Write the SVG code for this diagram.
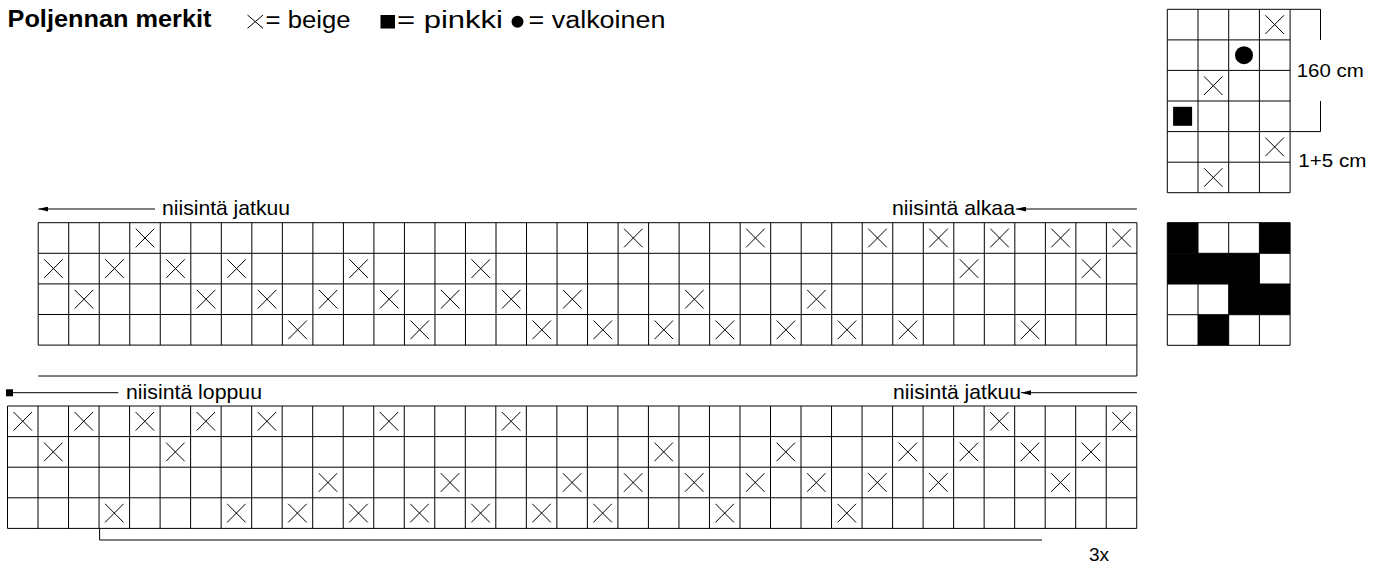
<svg xmlns="http://www.w3.org/2000/svg" xmlns:xlink="http://www.w3.org/1999/xlink" width="1384" height="566" viewBox="0 0 1384 566">
<style>
text{font-family:"Liberation Sans",Arial,Helvetica,sans-serif;fill:#000}
.h{font-size:24px;font-weight:bold}
.l{font-size:23px}
.t{font-size:21px}
.s{font-size:19px}
.grid{fill:none;stroke:#000;stroke-width:1}
.mk{fill:none;stroke:#000;stroke-width:1}
.con{fill:none;stroke:#000;stroke-width:1}
</style>
<defs>
<path id="x" class="mk" d="M6,6L24.5,24.6M24.5,6L6,24.6"/>
<marker id="ar" viewBox="0 0 10 5" refX="10" refY="2.5" markerWidth="10" markerHeight="5" markerUnits="userSpaceOnUse" orient="auto">
<path d="M0,0L10,2.5L0,5z" fill="#000"/>
</marker>
</defs>
<rect width="1384" height="566" fill="#fff"/>

<g id="legend-title">
<text class="h" x="7.5" y="26.8" textLength="204" lengthAdjust="spacingAndGlyphs">Poljennan merkit</text>
<path class="mk" d="M247.5,15L263,28.3M263,15L247.5,28.3"/>
<text class="l" x="265.5" y="28.3" textLength="85" lengthAdjust="spacingAndGlyphs">= beige</text>
<rect x="380.5" y="15" width="14.5" height="13.5" fill="#000"/>
<text class="l" x="397" y="28.3" textLength="106" lengthAdjust="spacingAndGlyphs">= pinkki</text>
<circle cx="517.5" cy="21.8" r="6" fill="#000"/>
<text class="l" x="528.5" y="28.3" textLength="137" lengthAdjust="spacingAndGlyphs">= valkoinen</text>
</g>

<g id="sample-grid">
<path class="grid" d="M1167.3,9.3H1290.1M1167.3,39.9H1290.1M1167.3,70.4H1290.1M1167.3,101H1290.1M1167.3,131.6H1290.1M1167.3,162.2H1290.1M1167.3,192.7H1290.1M1167.3,9.3V192.7M1198,9.3V192.7M1228.7,9.3V192.7M1259.4,9.3V192.7M1290.1,9.3V192.7"/>
<use href="#x" xlink:href="#x" x="1259.4" y="9.3"/>
<use href="#x" xlink:href="#x" x="1198" y="70.4"/>
<use href="#x" xlink:href="#x" x="1259.4" y="131.6"/>
<use href="#x" xlink:href="#x" x="1198" y="162.2"/>
<circle cx="1244" cy="55.2" r="9" fill="#000"/>
<rect x="1173.1" y="106.8" width="19" height="19" fill="#000"/>
<path class="grid" d="M1290.1,9.3H1320.5V39.9M1320.5,101V131.6H1290.1"/>
<text class="s" x="1296.7" y="76.5" textLength="67" lengthAdjust="spacingAndGlyphs">160 cm</text>
<text class="s" x="1298.3" y="166.7" textLength="68" lengthAdjust="spacingAndGlyphs">1+5 cm</text>
</g>

<g id="result-grid">
<rect x="1167.3" y="222.7" width="30.7" height="30.6" fill="#000"/>
<rect x="1259.4" y="222.7" width="30.7" height="30.6" fill="#000"/>
<rect x="1167.3" y="253.3" width="92.1" height="30.7" fill="#000"/>
<rect x="1228.7" y="284" width="61.4" height="30.7" fill="#000"/>
<rect x="1198" y="314.7" width="30.7" height="30.6" fill="#000"/>
<path class="grid" d="M1167.3,222.7H1290.1M1167.3,253.3H1290.1M1167.3,284H1290.1M1167.3,314.7H1290.1M1167.3,345.3H1290.1M1167.3,222.7V345.3M1198,222.7V345.3M1228.7,222.7V345.3M1259.4,222.7V345.3M1290.1,222.7V345.3"/>
</g>

<g id="top-grid">
<path class="grid" d="M38.2,222.7H1136.92M38.2,253.3H1136.92M38.2,283.9H1136.92M38.2,314.5H1136.92M38.2,345.1H1136.92
M38.2,222.7V345.1M68.72,222.7V345.1M99.24,222.7V345.1M129.76,222.7V345.1M160.28,222.7V345.1M190.8,222.7V345.1M221.32,222.7V345.1M251.84,222.7V345.1M282.36,222.7V345.1M312.88,222.7V345.1M343.4,222.7V345.1M373.92,222.7V345.1M404.44,222.7V345.1M434.96,222.7V345.1M465.48,222.7V345.1M496,222.7V345.1M526.52,222.7V345.1M557.04,222.7V345.1M587.56,222.7V345.1M618.08,222.7V345.1M648.6,222.7V345.1M679.12,222.7V345.1M709.64,222.7V345.1M740.16,222.7V345.1M770.68,222.7V345.1M801.2,222.7V345.1M831.72,222.7V345.1M862.24,222.7V345.1M892.76,222.7V345.1M923.28,222.7V345.1M953.8,222.7V345.1M984.32,222.7V345.1M1014.84,222.7V345.1M1045.36,222.7V345.1M1075.88,222.7V345.1M1106.4,222.7V345.1M1136.92,222.7V345.1"/>
<g>
<use href="#x" xlink:href="#x" x="129.76" y="222.7"/><use href="#x" xlink:href="#x" x="618.08" y="222.7"/><use href="#x" xlink:href="#x" x="740.16" y="222.7"/><use href="#x" xlink:href="#x" x="862.24" y="222.7"/><use href="#x" xlink:href="#x" x="923.28" y="222.7"/><use href="#x" xlink:href="#x" x="984.32" y="222.7"/><use href="#x" xlink:href="#x" x="1045.36" y="222.7"/><use href="#x" xlink:href="#x" x="1106.4" y="222.7"/>
<use href="#x" xlink:href="#x" x="38.2" y="253.3"/><use href="#x" xlink:href="#x" x="99.24" y="253.3"/><use href="#x" xlink:href="#x" x="160.28" y="253.3"/><use href="#x" xlink:href="#x" x="221.32" y="253.3"/><use href="#x" xlink:href="#x" x="343.4" y="253.3"/><use href="#x" xlink:href="#x" x="465.48" y="253.3"/><use href="#x" xlink:href="#x" x="953.8" y="253.3"/><use href="#x" xlink:href="#x" x="1075.88" y="253.3"/>
<use href="#x" xlink:href="#x" x="68.72" y="283.9"/><use href="#x" xlink:href="#x" x="190.8" y="283.9"/><use href="#x" xlink:href="#x" x="251.84" y="283.9"/><use href="#x" xlink:href="#x" x="312.88" y="283.9"/><use href="#x" xlink:href="#x" x="373.92" y="283.9"/><use href="#x" xlink:href="#x" x="434.96" y="283.9"/><use href="#x" xlink:href="#x" x="496" y="283.9"/><use href="#x" xlink:href="#x" x="557.04" y="283.9"/><use href="#x" xlink:href="#x" x="679.12" y="283.9"/><use href="#x" xlink:href="#x" x="801.2" y="283.9"/>
<use href="#x" xlink:href="#x" x="282.36" y="314.5"/><use href="#x" xlink:href="#x" x="404.44" y="314.5"/><use href="#x" xlink:href="#x" x="526.52" y="314.5"/><use href="#x" xlink:href="#x" x="587.56" y="314.5"/><use href="#x" xlink:href="#x" x="648.6" y="314.5"/><use href="#x" xlink:href="#x" x="709.64" y="314.5"/><use href="#x" xlink:href="#x" x="770.68" y="314.5"/><use href="#x" xlink:href="#x" x="831.72" y="314.5"/><use href="#x" xlink:href="#x" x="892.76" y="314.5"/><use href="#x" xlink:href="#x" x="1014.84" y="314.5"/>
</g>
</g>

<g id="bottom-grid">
<path class="grid" d="M7.5,406H1136.74M7.5,436.6H1136.74M7.5,467.2H1136.74M7.5,497.8H1136.74M7.5,528.4H1136.74
M7.5,406V528.4M38.02,406V528.4M68.54,406V528.4M99.06,406V528.4M129.58,406V528.4M160.1,406V528.4M190.62,406V528.4M221.14,406V528.4M251.66,406V528.4M282.18,406V528.4M312.7,406V528.4M343.22,406V528.4M373.74,406V528.4M404.26,406V528.4M434.78,406V528.4M465.3,406V528.4M495.82,406V528.4M526.34,406V528.4M556.86,406V528.4M587.38,406V528.4M617.9,406V528.4M648.42,406V528.4M678.94,406V528.4M709.46,406V528.4M739.98,406V528.4M770.5,406V528.4M801.02,406V528.4M831.54,406V528.4M862.06,406V528.4M892.58,406V528.4M923.1,406V528.4M953.62,406V528.4M984.14,406V528.4M1014.66,406V528.4M1045.18,406V528.4M1075.7,406V528.4M1106.22,406V528.4M1136.74,406V528.4"/>
<g>
<use href="#x" xlink:href="#x" x="7.5" y="406"/><use href="#x" xlink:href="#x" x="68.54" y="406"/><use href="#x" xlink:href="#x" x="129.58" y="406"/><use href="#x" xlink:href="#x" x="190.62" y="406"/><use href="#x" xlink:href="#x" x="251.66" y="406"/><use href="#x" xlink:href="#x" x="373.74" y="406"/><use href="#x" xlink:href="#x" x="495.82" y="406"/><use href="#x" xlink:href="#x" x="984.14" y="406"/><use href="#x" xlink:href="#x" x="1106.22" y="406"/>
<use href="#x" xlink:href="#x" x="38.02" y="436.6"/><use href="#x" xlink:href="#x" x="160.1" y="436.6"/><use href="#x" xlink:href="#x" x="648.42" y="436.6"/><use href="#x" xlink:href="#x" x="770.5" y="436.6"/><use href="#x" xlink:href="#x" x="892.58" y="436.6"/><use href="#x" xlink:href="#x" x="953.62" y="436.6"/><use href="#x" xlink:href="#x" x="1014.66" y="436.6"/><use href="#x" xlink:href="#x" x="1075.7" y="436.6"/>
<use href="#x" xlink:href="#x" x="312.7" y="467.2"/><use href="#x" xlink:href="#x" x="434.78" y="467.2"/><use href="#x" xlink:href="#x" x="556.86" y="467.2"/><use href="#x" xlink:href="#x" x="617.9" y="467.2"/><use href="#x" xlink:href="#x" x="678.94" y="467.2"/><use href="#x" xlink:href="#x" x="739.98" y="467.2"/><use href="#x" xlink:href="#x" x="801.02" y="467.2"/><use href="#x" xlink:href="#x" x="862.06" y="467.2"/><use href="#x" xlink:href="#x" x="923.1" y="467.2"/><use href="#x" xlink:href="#x" x="1045.18" y="467.2"/>
<use href="#x" xlink:href="#x" x="99.06" y="497.8"/><use href="#x" xlink:href="#x" x="221.14" y="497.8"/><use href="#x" xlink:href="#x" x="282.18" y="497.8"/><use href="#x" xlink:href="#x" x="343.22" y="497.8"/><use href="#x" xlink:href="#x" x="404.26" y="497.8"/><use href="#x" xlink:href="#x" x="465.3" y="497.8"/><use href="#x" xlink:href="#x" x="526.34" y="497.8"/><use href="#x" xlink:href="#x" x="587.38" y="497.8"/><use href="#x" xlink:href="#x" x="709.46" y="497.8"/><use href="#x" xlink:href="#x" x="831.54" y="497.8"/>
</g>
</g>

<g id="labels">
<text class="t" x="162" y="215" textLength="128" lengthAdjust="spacingAndGlyphs">niisintä jatkuu</text>
<text class="t" x="892" y="215" textLength="123" lengthAdjust="spacingAndGlyphs">niisintä alkaa</text>
<text class="t" x="126" y="398.5" textLength="136" lengthAdjust="spacingAndGlyphs">niisintä loppuu</text>
<text class="t" x="893" y="398.5" textLength="128" lengthAdjust="spacingAndGlyphs">niisintä jatkuu</text>
<text class="s" x="1089" y="561">3x</text>
</g>

<g id="connectors">
<path class="con" d="M155,209H38.3" marker-end="url(#ar)"/>
<path class="con" d="M1136.9,209H1016" marker-end="url(#ar)"/>
<path class="con" d="M1136.9,345.1V376H38.3"/>
<rect x="6" y="389.3" width="7" height="7" fill="#000"/>
<path class="con" d="M13,392.7H118.3"/>
<path class="con" d="M1136.9,392.7H1021" marker-end="url(#ar)"/>
<path class="con" d="M99.6,528.4V540H1042"/>
</g>
</svg>
